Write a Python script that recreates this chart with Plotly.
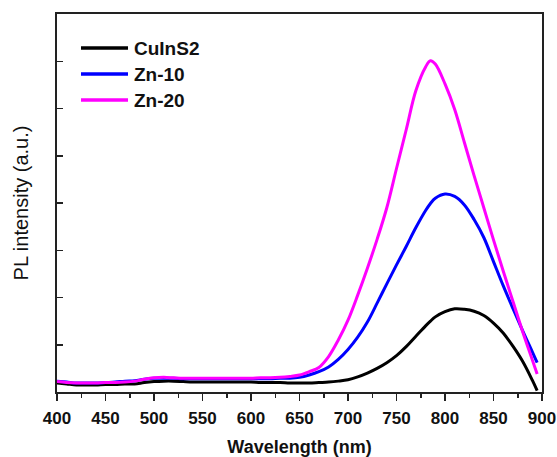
import plotly.graph_objects as go

# Wavelength grid (nm) and PL intensity (a.u.)
wl = [400, 410, 420, 430, 440, 450, 460, 470, 480, 490, 500, 510, 520, 530, 540, 550, 560, 570, 580, 590,
      600, 610, 620, 630, 640, 650, 660, 670, 680, 690, 700, 710, 720, 730, 740, 750, 760, 770, 780, 785, 790,
      800, 810, 820, 830, 840, 850, 860, 870, 880, 890, 895]

cuins2_pl = [0.19, 0.17, 0.15, 0.15, 0.15, 0.16, 0.16, 0.17, 0.17, 0.20, 0.22, 0.23, 0.23, 0.22, 0.21, 0.21, 0.21, 0.21, 0.21, 0.21,
             0.21, 0.20, 0.20, 0.20, 0.19, 0.19, 0.19, 0.20, 0.21, 0.23, 0.26, 0.32, 0.40, 0.50, 0.62, 0.77, 0.96, 1.18, 1.40, 1.50, 1.59,
             1.70, 1.76, 1.75, 1.71, 1.62, 1.46, 1.25, 0.97, 0.65, 0.25, 0.03]

zn10_pl = [0.23, 0.21, 0.19, 0.19, 0.19, 0.20, 0.21, 0.23, 0.24, 0.27, 0.29, 0.29, 0.29, 0.28, 0.28, 0.28, 0.28, 0.28, 0.28, 0.28,
           0.28, 0.28, 0.28, 0.29, 0.29, 0.31, 0.36, 0.43, 0.53, 0.69, 0.90, 1.16, 1.48, 1.88, 2.29, 2.69, 3.08, 3.48, 3.84, 3.99, 4.10,
           4.19, 4.14, 3.96, 3.65, 3.27, 2.76, 2.25, 1.77, 1.30, 0.85, 0.62]

zn20_pl = [0.22, 0.20, 0.19, 0.19, 0.19, 0.20, 0.20, 0.21, 0.23, 0.27, 0.30, 0.31, 0.30, 0.29, 0.29, 0.29, 0.29, 0.29, 0.29, 0.29,
           0.29, 0.30, 0.30, 0.31, 0.33, 0.36, 0.43, 0.52, 0.75, 1.10, 1.52, 2.05, 2.62, 3.23, 3.90, 4.73, 5.55, 6.38, 6.88, 7.01, 6.94,
           6.52, 5.98, 5.28, 4.58, 3.90, 3.22, 2.56, 1.92, 1.28, 0.68, 0.38]

series_names = ["CuInS2", "Zn-10", "Zn-20"]
series_colors = ["#000000", "#0000FF", "#FF00FF"]
series_y = [cuins2_pl, zn10_pl, zn20_pl]

x_ticks = [400, 450, 500, 550, 600, 650, 700, 750, 800, 850, 900]

FONT = "Liberation Sans, Arial, sans-serif"

fig = go.Figure()
for name, color, ys in zip(series_names, series_colors, series_y):
    fig.add_trace(go.Scatter(x=wl, y=ys, mode="lines", name=name,
                             line=dict(color=color, width=3, shape="spline", smoothing=1.0),
                             showlegend=False, hoverinfo="skip"))

# Manual legend (long sample lines like the reference)
W, H = 557, 457
L, R, T, B = 57, 15, 14, 65
pw, ph = W - L - R, H - T - B
def px(xp):
    return (xp - L) / pw
def py(yp):
    return (H - B - yp) / ph

rows_y = [48, 74, 100]
for name, color, yy in zip(series_names, series_colors, rows_y):
    fig.add_shape(type="line", xref="paper", yref="paper",
                  x0=px(81), x1=px(128), y0=py(yy), y1=py(yy),
                  line=dict(color=color, width=3.5))
    fig.add_annotation(xref="paper", yref="paper", x=px(132), y=py(yy),
                       text=name, showarrow=False, xanchor="left", yanchor="middle",
                       font=dict(family=FONT, size=19, color="#111111", weight="bold"))

fig.update_layout(
    width=W, height=H,
    margin=dict(l=L, r=R, t=T, b=B, autoexpand=False),
    paper_bgcolor="white", plot_bgcolor="white",
    font=dict(family=FONT, color="#111111"),
)
fig.update_xaxes(
    range=[400, 900], tickvals=x_ticks, ticktext=[str(v) for v in x_ticks],
    automargin=False,
    ticks="outside", ticklen=7, tickwidth=1.5, tickcolor="#222222", ticklabelstandoff=3,
    minor=dict(dtick=25, ticks="outside", ticklen=4, tickwidth=1.5, tickcolor="#222222"),
    showline=True, linecolor="#222222", linewidth=2, mirror=True,
    showgrid=False, zeroline=False,
    tickfont=dict(family=FONT, size=17, color="#111111", weight="bold"),
    title=dict(text="Wavelength (nm)", standoff=14,
               font=dict(family=FONT, size=18, color="#111111", weight="bold")),
)
fig.update_yaxes(
    range=[0, 8], dtick=1, tick0=0, showticklabels=False,
    automargin=False,
    ticks="inside", ticklen=6, tickwidth=1.5, tickcolor="#222222",
    showline=True, linecolor="#222222", linewidth=2, mirror=True,
    showgrid=False, zeroline=False,
    title=dict(text="PL intensity (a.u.)", standoff=21,
               font=dict(family=FONT, size=20, color="#111111")),
)

fig.write_html("out.html",
               config={"displayModeBar": False, "staticPlot": True},
               post_script="document.body.style.margin='0';document.body.style.overflow='hidden';")
